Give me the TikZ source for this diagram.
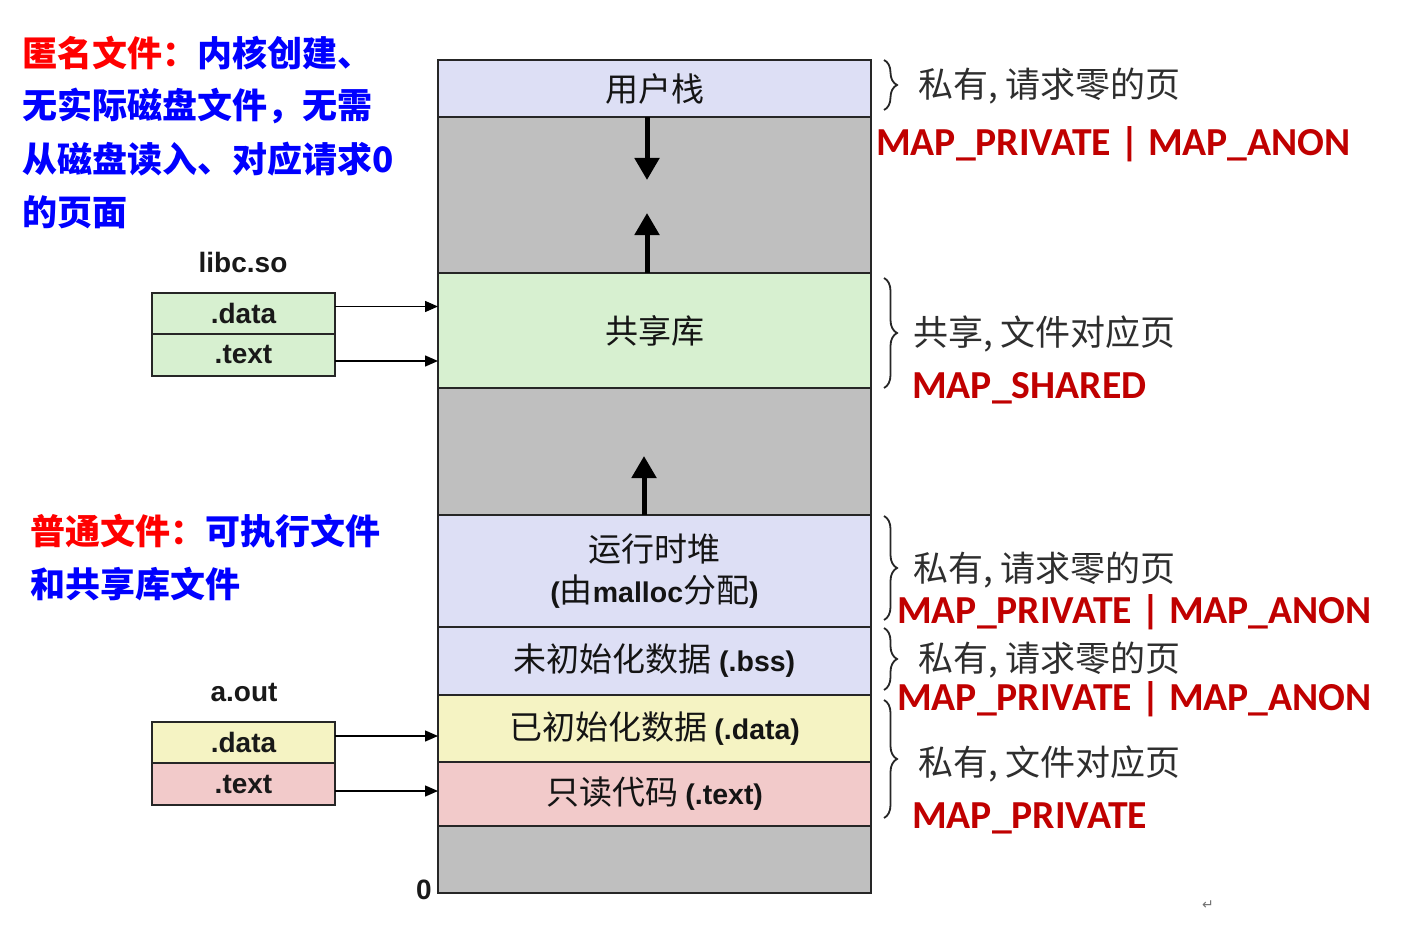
\documentclass[tikz,border=0pt]{standalone}
\usepackage{fontspec}
\usetikzlibrary{arrows.meta,decorations.pathreplacing}
\newfontfamily\fzh{Noto Sans CJK SC}
\newfontfamily\far{Liberation Sans}
\newfontfamily\fcb{Carlito}
\newfontfamily\fdjs{DejaVu Sans}
\definecolor{lav}{HTML}{DDDFF5}
\definecolor{segray}{HTML}{BFBFBF}
\definecolor{lgreen}{HTML}{D7F0D0}
\definecolor{lyellow}{HTML}{F5F3C3}
\definecolor{lpink}{HTML}{F2CACA}
\definecolor{mapred}{HTML}{C00000}
\definecolor{titred}{HTML}{FF0000}
\definecolor{titblue}{HTML}{0000FF}
\newcommand\latb[1]{{\far\bfseries\fontsize{28.5}{30}\selectfont #1}}
\begin{document}
\begin{tikzpicture}[x=1pt,y=-1pt,
  seg/.style={draw=black!85, line width=1.6pt, minimum width=433pt, inner sep=0pt, outer sep=0pt,
    anchor=north west, text=black!92, align=center, font=\fzh\fontsize{33}{41}\selectfont},
  lbox/.style={draw=black!85, line width=1.6pt, minimum width=183pt, inner sep=0pt, outer sep=0pt,
    anchor=north west, text=black!90, font=\far\bfseries\fontsize{28}{30}\selectfont},
  flabel/.style={text=black!90, inner sep=0pt, font=\far\bfseries\fontsize{28}{30}\selectfont},
  fat/.style={line width=5pt, -{Triangle[length=22pt,width=24pt]}},
  linkarrow/.style={line width=1.4pt, -{Triangle[length=13pt,width=11pt]}},
  brc/.style={decorate, decoration={brace, amplitude=13pt}, line width=1.8pt, draw=black!85},
  ann/.style={anchor=west, inner sep=0pt, text=black!82, font=\fzh\fontsize{35}{38}\selectfont},
  map/.style={anchor=base west, inner sep=0pt, text=mapred, font=\fcb\bfseries\fontsize{39.7}{42}\selectfont},
  desc/.style={anchor=west, inner sep=0pt, text=titblue, font=\fzh\bfseries\fontsize{35}{40}\selectfont}
]
\useasboundingbox (0,0) rectangle (1421,928);
\fill[white] (0,0) rectangle (1421,928);

% memory column
\node[seg, fill=lav, minimum height=57pt] (stack) at (438,60) {用户栈};
\node[seg, fill=segray, minimum height=156pt] (gap1) at (438,117) {};
\node[seg, fill=lgreen, minimum height=115pt] (shl) at (438,273) {共享库};
\node[seg, fill=segray, minimum height=127pt] (gap2) at (438,388) {};
\node[seg, fill=lav, minimum height=112pt] (heap) at (438,515) {运行时堆\\\latb{(}由\latb{malloc}分配\latb{)}};
\node[seg, fill=lav, minimum height=68pt] (bss) at (438,627) {未初始化数据 \latb{(.bss)}};
\node[seg, fill=lyellow, minimum height=67pt] (data) at (438,695) {已初始化数据 \latb{(.data)}};
\node[seg, fill=lpink, minimum height=64pt] (text) at (438,762) {只读代码 \latb{(.text)}};
\node[seg, fill=segray, minimum height=67pt] (gap3) at (438,826) {};
\node[flabel] (zero) at (424,890) {0};

% growth arrows
\coordinate (a1) at (647,180);
\draw[fat] (stack.south -| a1) -- (a1);
\coordinate (a2) at (647,213);
\draw[fat] (shl.north -| a2) -- (a2);
\coordinate (a3) at (644,456);
\draw[fat] (heap.north -| a3) -- (a3);

% libc.so
\node[flabel] (libc) at (243,262) {libc.so};
\node[lbox, fill=lgreen, minimum height=41pt] (ld) at (152,293) {.data};
\node[lbox, fill=lgreen, minimum height=42pt] (lt) at (152,334) {.text};
\coordinate (p1) at ([yshift=7pt]ld.east);
\coordinate (p2) at ([yshift=-6pt]lt.east);
\draw[linkarrow] (p1) -- (p1 -| shl.west);
\draw[linkarrow] (p2) -- (p2 -| shl.west);

% a.out
\node[flabel] (aout) at (244,692) {a.out};
\node[lbox, fill=lyellow, minimum height=41pt] (ad) at (152,722) {.data};
\node[lbox, fill=lpink, minimum height=42pt] (at) at (152,763) {.text};
\coordinate (p3) at ([yshift=6.5pt]ad.east);
\coordinate (p4) at ([yshift=-7pt]at.east);
\draw[linkarrow] (p3) -- (p3 -| data.west);
\draw[linkarrow] (p4) -- (p4 -| text.west);

% braces and annotations
\draw[brc] (884,60) -- (884,110);
\draw[brc] (884,278) -- (884,388);
\draw[brc] (884,516) -- (884,620);
\draw[brc] (884,628) -- (884,690);
\draw[brc] (884,700) -- (884,818);

\node[ann] (n1) at (918,86) {私有, 请求零的页};
\node[map] (m1) at (876,156) {MAP\_PRIVATE | MAP\_ANON};
\node[ann] (n2) at (913,334) {共享, 文件对应页};
\node[map] (m2) at (912,398) {MAP\_SHARED};
\node[ann] (n3) at (913,570) {私有, 请求零的页};
\node[map] (m3) at (897,623) {MAP\_PRIVATE | MAP\_ANON};
\node[ann] (n4) at (918,660) {私有, 请求零的页};
\node[map] (m4) at (897,710) {MAP\_PRIVATE | MAP\_ANON};
\node[ann] (n5) at (918,764) {私有, 文件对应页};
\node[map] (m5) at (912,828) {MAP\_PRIVATE};

% left descriptions
\node[desc] (t1) at (22,53) {\textcolor{titred}{匿名文件：}内核创建、};
\node[desc] (t2) at (22,106) {无实际磁盘文件，无需};
\node[desc] (t3) at (22,159) {从磁盘读入、对应请求0};
\node[desc] (t4) at (22,212) {的页面};
\node[desc] (t5) at (30,531) {\textcolor{titred}{普通文件：}可执行文件};
\node[desc] (t6) at (30,584) {和共享库文件};

\node[inner sep=0pt, text=black!55, font=\fdjs\fontsize{14}{16}\selectfont] (ret) at (1208,905) {↵};
\end{tikzpicture}
\end{document}
